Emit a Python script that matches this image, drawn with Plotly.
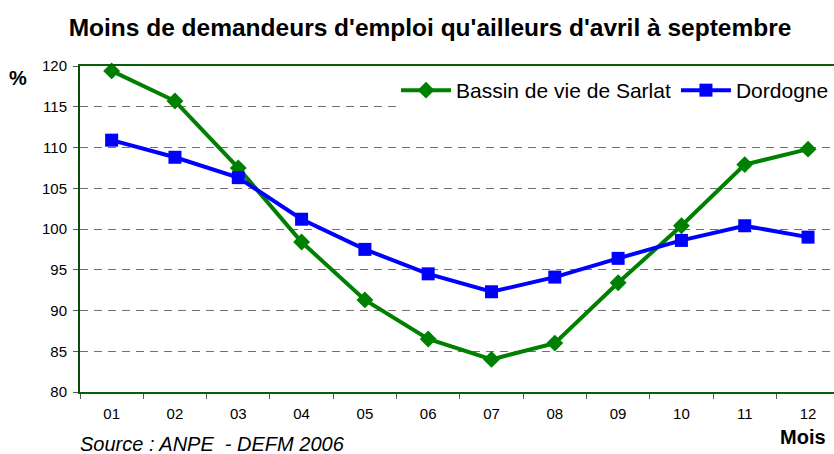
import plotly.graph_objects as go

months = ["01", "02", "03", "04", "05", "06", "07", "08", "09", "10", "11", "12"]
sarlat = [119.4, 115.7, 107.5, 98.4, 91.3, 86.5, 84.0, 86.0, 93.4, 100.4, 107.9, 109.8]
dordogne = [110.9, 108.8, 106.3, 101.2, 97.5, 94.5, 92.3, 94.1, 96.4, 98.6, 100.4, 99.0]
y_ticks = [80, 85, 90, 95, 100, 105, 110, 115, 120]

fig = go.Figure()
fig.add_trace(go.Scatter(
    x=months, y=sarlat, name="Bassin de vie de Sarlat", mode="lines+markers",
    line=dict(color="#008000", width=4),
    marker=dict(symbol="diamond", size=13, color="#008000"),
    cliponaxis=False,
))
fig.add_trace(go.Scatter(
    x=months, y=dordogne, name="Dordogne", mode="lines+markers",
    line=dict(color="#0000FF", width=4),
    marker=dict(symbol="square", size=13, color="#0000FF"),
    cliponaxis=False,
))

fig.update_layout(
    width=834, height=454,
    margin=dict(l=80, r=0, t=66, b=62),
    paper_bgcolor="white", plot_bgcolor="white",
    font=dict(family="Liberation Sans, Arial, sans-serif", size=15, color="black"),
    title=dict(
        text="<b>Moins de demandeurs d'emploi qu'ailleurs d'avril à septembre</b>",
        font=dict(family="Liberation Sans, Arial, sans-serif", size=24.5, color="black"),
        x=430 / 834, xanchor="center", y=1 - 27 / 454, yanchor="middle",
    ),
    showlegend=True,
    legend=dict(
        orientation="h", x=1, xanchor="right", y=(392 - 70) / 326, yanchor="top",
        bgcolor="white", font=dict(size=21, color="black"),
        itemwidth=50, tracegroupgap=0, traceorder="normal",
    ),
    xaxis=dict(
        type="category", range=[-0.5, 11.41],
        showgrid=False, zeroline=False,
        showline=True, linecolor="#0b5e0b", linewidth=2, mirror=True,
        ticks="outside", ticklen=5, tickcolor="#555555", tickson="boundaries",
        tickfont=dict(size=15), ticklabelstandoff=7,
    ),
    yaxis=dict(
        range=[80, 120], tickvals=y_ticks,
        showgrid=True, gridcolor="#707070", gridwidth=1, griddash="8px,6px",
        zeroline=False,
        showline=True, linecolor="#0b4a0b", linewidth=2,
        ticks="outside", ticklen=5, tickcolor="#555555",
        tickfont=dict(size=15), ticklabelstandoff=3,
    ),
    annotations=[
        dict(text="<b>%</b>", xref="paper", yref="paper", x=(18 - 80) / 754, y=(392 - 78) / 326,
             showarrow=False, font=dict(size=20), xanchor="center", yanchor="middle"),
        dict(text="<b>Mois</b>", xref="paper", yref="paper", x=(803 - 80) / 754, y=(392 - 437) / 326,
             showarrow=False, font=dict(size=20), xanchor="center", yanchor="middle"),
        dict(text="<i>Source : ANPE &nbsp;- DEFM 2006</i>", xref="paper", yref="paper",
             x=(78 - 80) / 754, y=(392 - 444) / 326,
             showarrow=False, font=dict(size=20), xanchor="left", yanchor="middle"),
    ],
)

fig.write_html("out.html", config={"displayModeBar": False},
               post_script="document.body.style.margin='0';")
